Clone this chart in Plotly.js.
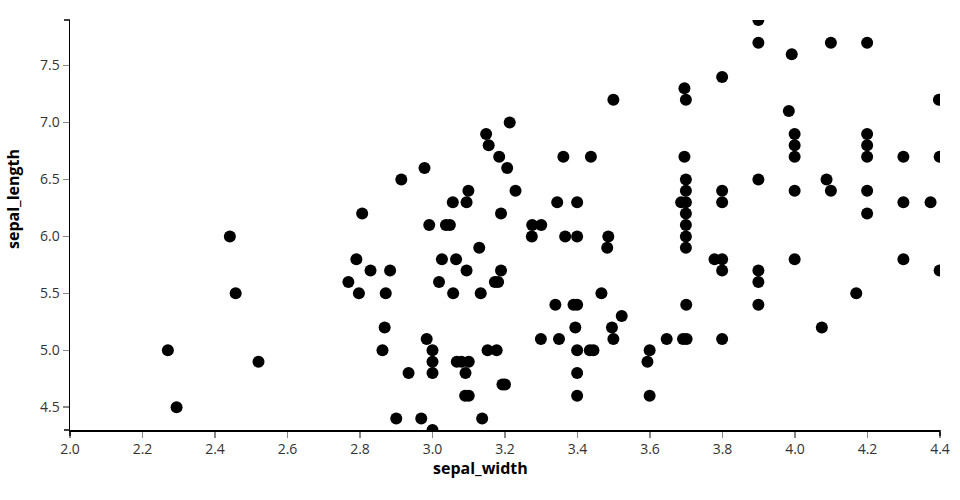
<!DOCTYPE html>
<html>
<head>
<meta charset="utf-8">
<script src="https://cdn.plot.ly/plotly-3.0.1.min.js"></script>
<style>html,body{margin:0;padding:0;background:#fff}#chart{width:960px;height:500px}</style>
</head>
<body>
<div id="chart"></div>
<script>
const sepalWidth = [
  2.441, 2.457, 2.270, 2.294, 2.520, 2.768, 2.790, 2.797, 2.806,
  3.056, 3.094, 3.344, 3.399, 3.189, 2.991, 3.037, 3.048, 3.275, 3.300,
  3.274, 3.366, 3.399, 3.485, 3.129, 3.482, 3.026, 3.065, 2.829, 2.883,
  3.094, 3.189, 3.018, 3.172, 3.181, 2.871, 3.057, 3.133, 3.466, 3.339,
  3.389, 3.399, 3.522, 2.868, 3.394, 3.495, 2.984, 3.299, 3.349, 3.499,
  2.862, 3.000, 3.152, 3.177, 3.399, 3.434, 3.444, 3.000, 3.067, 3.080,
  3.100, 2.934, 3.000, 3.091, 3.399, 3.193, 3.200, 3.090, 3.100, 3.399,
  2.900, 2.969, 3.137, 3.000,
  3.499, 3.213, 3.148, 3.155, 3.184, 3.361, 3.437, 2.978, 3.206, 2.914,
  3.099, 3.229,
  3.899, 3.899, 4.099, 4.199, 3.991, 3.799, 3.695, 3.699, 4.397, 3.983,
  3.999, 4.199, 3.999, 4.199, 3.695, 3.999, 4.199, 4.299, 4.399, 3.699,
  3.899, 4.087, 3.699, 3.799, 3.999, 4.099, 4.199, 3.686, 3.699, 3.799,
  4.299, 4.374,
  3.699, 4.199, 3.699, 3.699, 3.699, 3.778, 3.799, 3.999, 4.299, 3.799,
  3.899, 4.399, 3.899, 4.169, 3.700, 3.899, 4.074, 3.646, 3.691, 3.701,
  3.799, 3.599, 3.593, 3.599
];
const sepalLength = [
  6.0, 5.5, 5.0, 4.5, 4.9, 5.6, 5.8, 5.5, 6.2,
  6.3, 6.3, 6.3, 6.3, 6.2, 6.1, 6.1, 6.1, 6.1, 6.1,
  6.0, 6.0, 6.0, 6.0, 5.9, 5.9, 5.8, 5.8, 5.7, 5.7,
  5.7, 5.7, 5.6, 5.6, 5.6, 5.5, 5.5, 5.5, 5.5, 5.4,
  5.4, 5.4, 5.3, 5.2, 5.2, 5.2, 5.1, 5.1, 5.1, 5.1,
  5.0, 5.0, 5.0, 5.0, 5.0, 5.0, 5.0, 4.9, 4.9, 4.9,
  4.9, 4.8, 4.8, 4.8, 4.8, 4.7, 4.7, 4.6, 4.6, 4.6,
  4.4, 4.4, 4.4, 4.3,
  7.2, 7.0, 6.9, 6.8, 6.7, 6.7, 6.7, 6.6, 6.6, 6.5,
  6.4, 6.4,
  7.9, 7.7, 7.7, 7.7, 7.6, 7.4, 7.3, 7.2, 7.2, 7.1,
  6.9, 6.9, 6.8, 6.8, 6.7, 6.7, 6.7, 6.7, 6.7, 6.5,
  6.5, 6.5, 6.4, 6.4, 6.4, 6.4, 6.4, 6.3, 6.3, 6.3,
  6.3, 6.3,
  6.2, 6.2, 6.1, 6.0, 5.9, 5.8, 5.8, 5.8, 5.8, 5.7,
  5.7, 5.7, 5.6, 5.5, 5.4, 5.4, 5.2, 5.1, 5.1, 5.1,
  5.1, 5.0, 4.9, 4.6
];
const xTicks = [2.0, 2.2, 2.4, 2.6, 2.8, 3.0, 3.2, 3.4, 3.6, 3.8, 4.0, 4.2, 4.4];
const yTicks = [4.5, 5.0, 5.5, 6.0, 6.5, 7.0, 7.5];
const xTitle = 'sepal_width';
const yTitle = 'sepal_length';

const trace = {
  type: 'scatter',
  mode: 'markers',
  x: sepalWidth,
  y: sepalLength,
  marker: {color: '#000', size: 12, line: {width: 0}},
  hoverinfo: 'x+y'
};

const font = 'Open Sans, Noto Sans, sans-serif';
const layout = {
  width: 960, height: 500,
  margin: {l: 70, r: 20, t: 20, b: 70},
  paper_bgcolor: '#fff', plot_bgcolor: '#fff',
  showlegend: false,
  font: {family: font, size: 14, color: '#333'},
  xaxis: {
    range: [2.0, 4.4], tickvals: xTicks, ticktext: xTicks.map(v => v.toFixed(1)),
    showgrid: false, zeroline: false,
    showline: true, linecolor: '#000', linewidth: 1.5,
    ticks: 'outside', ticklen: 6, tickcolor: '#888', tickwidth: 1.5,
    tickfont: {family: font, size: 14, color: '#333'}
  },
  yaxis: {
    range: [4.3, 7.9], tickvals: yTicks, ticktext: yTicks.map(v => v.toFixed(1)),
    showgrid: false, zeroline: false,
    showline: true, linecolor: '#000', linewidth: 1.5,
    ticks: 'outside', ticklen: 6, tickcolor: '#888', tickwidth: 1.5,
    tickfont: {family: font, size: 14, color: '#333'}
  },
  annotations: [
    {text: '<b>' + xTitle + '</b>', xref: 'paper', yref: 'paper',
     x: (480 - 70) / 870, y: -(468 - 430) / 410, xanchor: 'center', yanchor: 'middle',
     borderpad: 0, showarrow: false, font: {family: font, size: 16, color: '#000'}},
    {text: '<b>' + yTitle + '</b>', xref: 'paper', yref: 'paper',
     x: (13 - 70) / 870, y: (430 - 199) / 410, xanchor: 'center', yanchor: 'middle',
     borderpad: 0, textangle: -90, showarrow: false, font: {family: font, size: 16, color: '#000'}}
  ],
  shapes: [
    {type: 'line', xref: 'paper', yref: 'paper', x0: 0, x1: -6/870, y0: 1, y1: 1, line: {color: '#000', width: 1.5}},
    {type: 'line', xref: 'paper', yref: 'paper', x0: 0, x1: -6/870, y0: 0, y1: 0, line: {color: '#000', width: 1.5}},
    {type: 'line', xref: 'paper', yref: 'paper', x0: 0, x1: 0, y0: 0, y1: -6/410, line: {color: '#000', width: 1.5}},
    {type: 'line', xref: 'paper', yref: 'paper', x0: 1, x1: 1, y0: 0, y1: -6/410, line: {color: '#000', width: 1.5}}
  ]
};

Plotly.newPlot('chart', [trace], layout, {displayModeBar: false, staticPlot: true});
</script>
</body>
</html>
